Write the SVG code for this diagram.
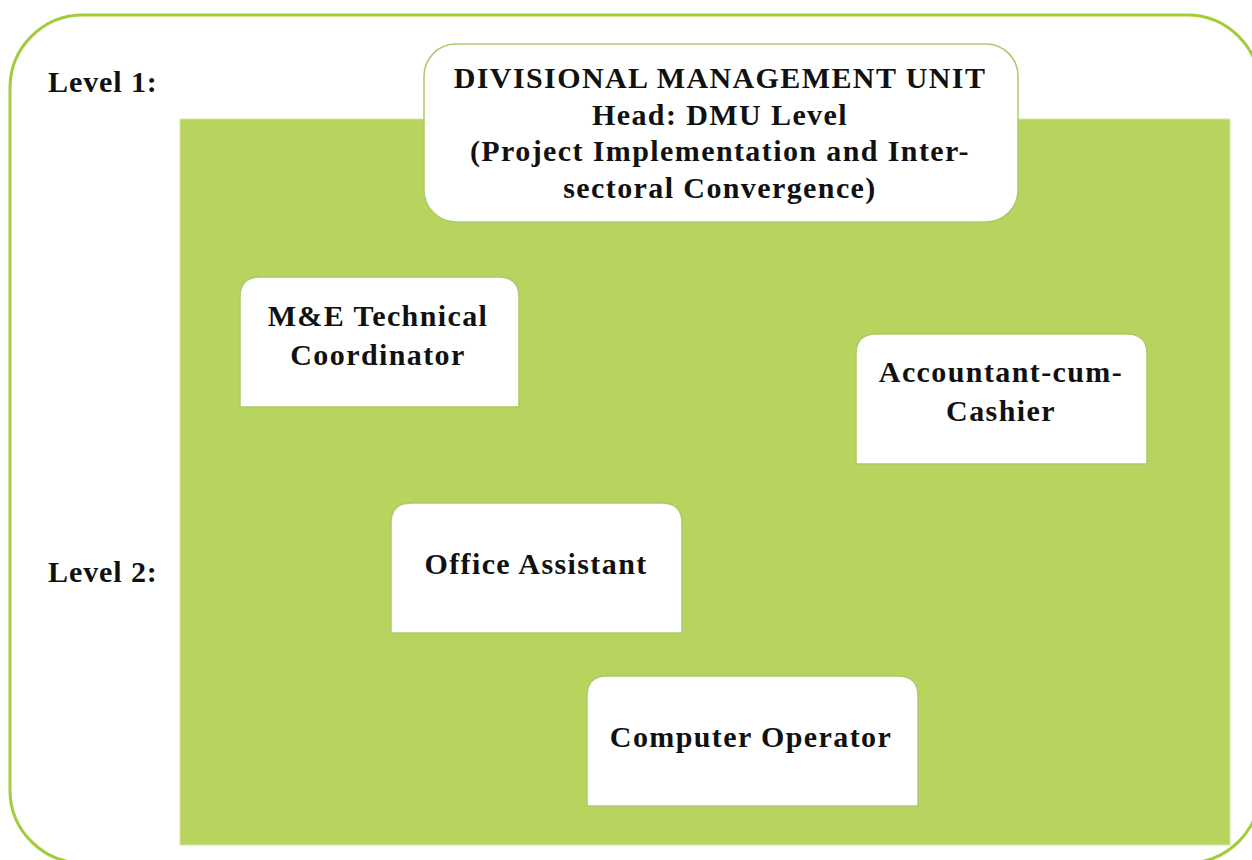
<svg xmlns="http://www.w3.org/2000/svg" width="1252" height="860" viewBox="0 0 1252 860">
<style>
.t{font-family:"Liberation Serif","Times New Roman",serif;font-weight:bold;font-size:30px;fill:#111;text-anchor:middle;letter-spacing:1.4px}
.lv{font-family:"Liberation Serif","Times New Roman",serif;font-weight:bold;font-size:30px;fill:#111;letter-spacing:0.9px}
.box{fill:#fff;stroke:#A9CB6C;stroke-width:1.5}
</style>
<rect x="0" y="0" width="1252" height="860" fill="#fff"/>
<rect x="10" y="15" width="1250" height="848" rx="73" ry="73" fill="none" stroke="#A3CC3A" stroke-width="3"/>
<rect x="180" y="119" width="1050" height="726" fill="#B8D35E" stroke="#D6E6A6" stroke-width="1"/>
<text class="lv" x="48" y="92">Level 1:</text>
<text class="lv" x="48" y="582">Level 2:</text>
<g id="dmu">
<rect class="box" x="424" y="44" width="594" height="178" rx="32" ry="32"/>
<text class="t" x="720" y="88">DIVISIONAL MANAGEMENT UNIT</text>
<text class="t" x="720" y="125">Head: DMU Level</text>
<text class="t" x="720" y="161">(Project Implementation and Inter-</text>
<text class="t" x="720" y="198">sectoral Convergence)</text>
</g>
<g id="me">
<path class="box" d="M240,407 V297 Q240,277 260,277 H499 Q519,277 519,297 V407 Z"/>
<text class="t" x="378" y="326">M&amp;E Technical</text>
<text class="t" x="378" y="365">Coordinator</text>
</g>
<g id="acc">
<path class="box" d="M856,464 V354 Q856,334 876,334 H1127 Q1147,334 1147,354 V464 Z"/>
<text class="t" x="1001" y="382">Accountant-cum-</text>
<text class="t" x="1001" y="421">Cashier</text>
</g>
<g id="office">
<path class="box" d="M391,633 V523 Q391,503 411,503 H662 Q682,503 682,523 V633 Z"/>
<text class="t" x="536" y="574">Office Assistant</text>
</g>
<g id="computer">
<path class="box" d="M587,806 V696 Q587,676 607,676 H898 Q918,676 918,696 V806 Z"/>
<text class="t" x="751" y="747">Computer Operator</text>
</g>
<g id="connectors"></g>
</svg>
